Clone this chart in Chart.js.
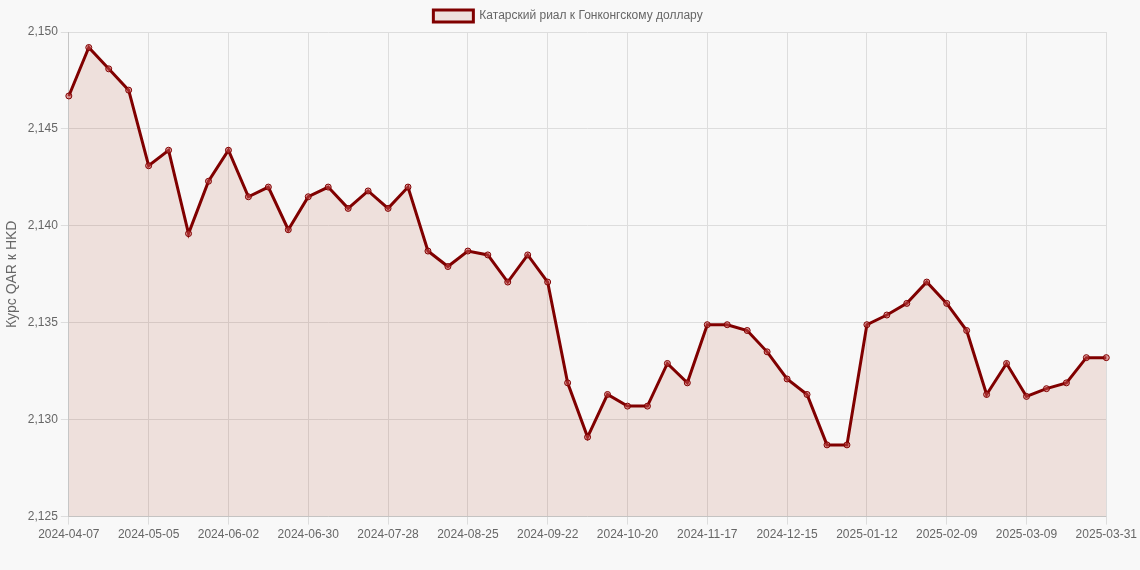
<!DOCTYPE html>
<html><head><meta charset="utf-8">
<script src="https://cdn.jsdelivr.net/npm/chart.js@4"></script>
<style>html,body{margin:0;background:#f8f8f8}#wrap{width:1140px;height:570px}</style>
</head><body><div id="wrap"><canvas id="c"></canvas></div>
<script>
const dates=["2024-04-07","2024-04-14","2024-04-21","2024-04-28","2024-05-05","2024-05-12","2024-05-19","2024-05-26",
"2024-06-02","2024-06-09","2024-06-16","2024-06-23","2024-06-30","2024-07-07","2024-07-14","2024-07-21",
"2024-07-28","2024-08-04","2024-08-11","2024-08-18","2024-08-25","2024-09-01","2024-09-08","2024-09-15",
"2024-09-22","2024-09-29","2024-10-06","2024-10-13","2024-10-20","2024-10-27","2024-11-03","2024-11-10",
"2024-11-17","2024-11-24","2024-12-01","2024-12-08","2024-12-15","2024-12-22","2024-12-29","2025-01-05",
"2025-01-12","2025-01-19","2025-01-26","2025-02-02","2025-02-09","2025-02-16","2025-02-23","2025-03-02",
"2025-03-09","2025-03-16","2025-03-23","2025-03-30","2025-03-31"];
const rates=[2.1467,2.1492,2.1481,2.1470,2.1431,2.1439,2.1396,2.1423,2.1439,2.1415,2.1420,2.1398,2.1415,2.1420,
2.1409,2.1418,2.1409,2.1420,2.1387,2.1379,2.1387,2.1385,2.1371,2.1385,2.1371,2.1319,2.1291,2.1313,2.1307,2.1307,
2.1329,2.1319,2.1349,2.1349,2.1346,2.1335,2.1321,2.1313,2.1287,2.1287,2.1349,2.1354,2.1360,2.1371,2.1360,2.1346,
2.1313,2.1329,2.1312,2.1316,2.1319,2.1332,2.1332];
const seriesName="Катарский риал к Гонконгскому доллару";

Chart.defaults.font.family="'Liberation Sans', Arial, sans-serif";
Chart.defaults.font.size=12;
Chart.defaults.color="#666";

new Chart(document.getElementById("c"),{
type:"line",
data:{labels:dates,datasets:[{
label:seriesName,data:rates,
borderColor:"#800000",borderWidth:3,
backgroundColor:"rgba(170,60,30,0.13)",fill:true,tension:0,
pointRadius:3,pointBorderWidth:1,pointBackgroundColor:"rgba(200,80,80,0.5)",pointBorderColor:"#800000"
}]},
options:{
responsive:true,maintainAspectRatio:false,animation:false,
layout:{padding:{right:4,bottom:25}},
plugins:{legend:{labels:{boxWidth:40,boxHeight:12}}},
scales:{
x:{grid:{color:"#ddd"},ticks:{autoSkip:false,maxRotation:0,
callback:function(v,i){return (i%4===0||i===dates.length-1)?dates[i]:null;}}},
y:{min:2.125,max:2.150,grid:{color:"#ddd"},
title:{display:true,text:"Курс QAR к HKD",font:{size:14}},
ticks:{stepSize:0.005,callback:v=>v.toFixed(3).replace(".",",")}}
}}
});
</script></body></html>
